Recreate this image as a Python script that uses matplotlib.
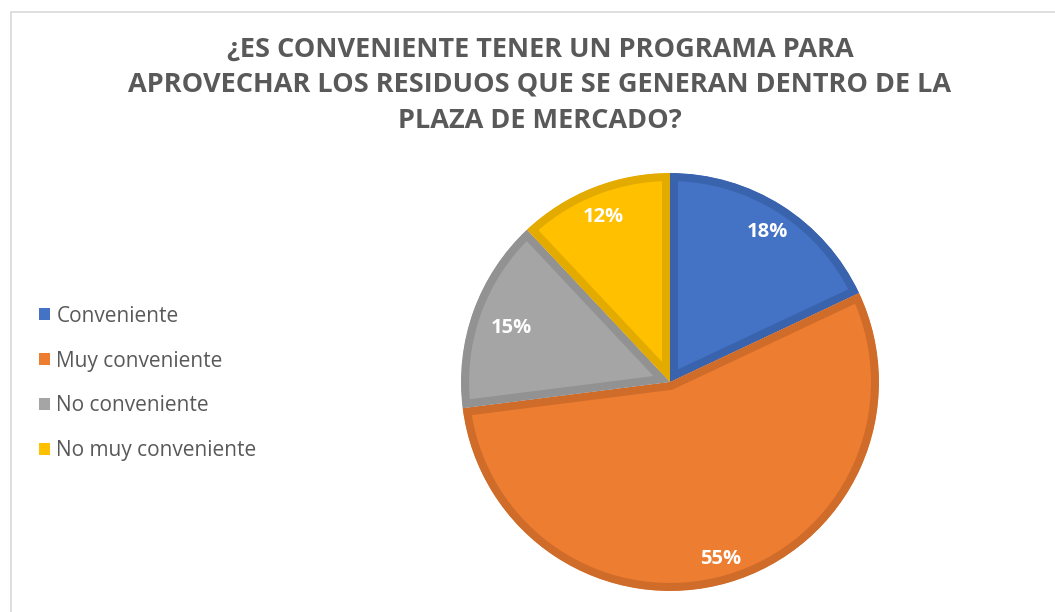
import matplotlib.pyplot as plt
from matplotlib.patches import Patch, Rectangle

# data
categories = ["Conveniente", "Muy conveniente", "No conveniente", "No muy conveniente"]
values = [18, 55, 15, 12]
colors = ["#4472C4", "#ED7D31", "#A5A5A5", "#FFC000"]
edge_colors = ["#3A63AE", "#D06C2A", "#929292", "#E3AA00"]
title = "¿ES CONVENIENTE TENER UN PROGRAMA PARA\nAPROVECHAR LOS RESIDUOS QUE SE GENERAN DENTRO DE LA\nPLAZA DE MERCADO?"

W, H = 1055, 612
fig = plt.figure(figsize=(W / 100, H / 100), dpi=100)
fig.patch.set_facecolor("white")

# light chart-area border
fig.patches.append(Rectangle((10.5 / W, -0.1), 1.2, (H - 11.5) / H + 0.1,
                             transform=fig.transFigure, fill=False,
                             edgecolor="#D9D9D9", linewidth=1.2))

fig.text(540 / W, 1 - 85 / H, title, ha="center", va="center",
         fontsize=19.5, fontweight="bold", color="#595959",
         family="Open Sans", linespacing=1.48)

# pie axes: centre (670, 382), 210 px half-size
cx, cy, half = 670, 382, 210
ax = fig.add_axes([(cx - half) / W, (H - cy - half) / H, 2 * half / W, 2 * half / H])
ax.axis("off")

wedges, texts, autotexts = ax.pie(
    values, colors=colors, startangle=90, counterclock=False,
    radius=0.995, autopct="%d%%", pctdistance=0.866,
    wedgeprops=dict(linewidth=11.5, joinstyle="miter"),
    textprops=dict(color="white", fontsize=14.5, fontweight="bold", family="Open Sans"),
)
ax.set_xlim(-1, 1)
ax.set_ylim(-1, 1)
ax.set_aspect("equal")
# inner border: stroke clipped to each slice
for w, ec in zip(wedges, edge_colors):
    w.set_edgecolor(ec)
    w.set_clip_on(True)
    w.set_clip_path(w)
x, y = autotexts[2].get_position()
autotexts[2].set_position((x * 0.93, y * 0.93))
# nudge labels down a few pixels
for t in autotexts:
    x, y = t.get_position()
    t.set_position((x, y - 0.014))

handles = [Patch(facecolor=c, edgecolor="none") for c in colors]
fig.legend(handles, categories, loc="center left",
           bbox_to_anchor=(20 / W, 1 - 383.5 / H), frameon=False,
           handlelength=0.55, handleheight=0.55,
           handletextpad=0.3, labelspacing=1.15,
           prop=dict(family="Open Sans", size=15), labelcolor="#595959")

fig.savefig("out.png", dpi=100)
